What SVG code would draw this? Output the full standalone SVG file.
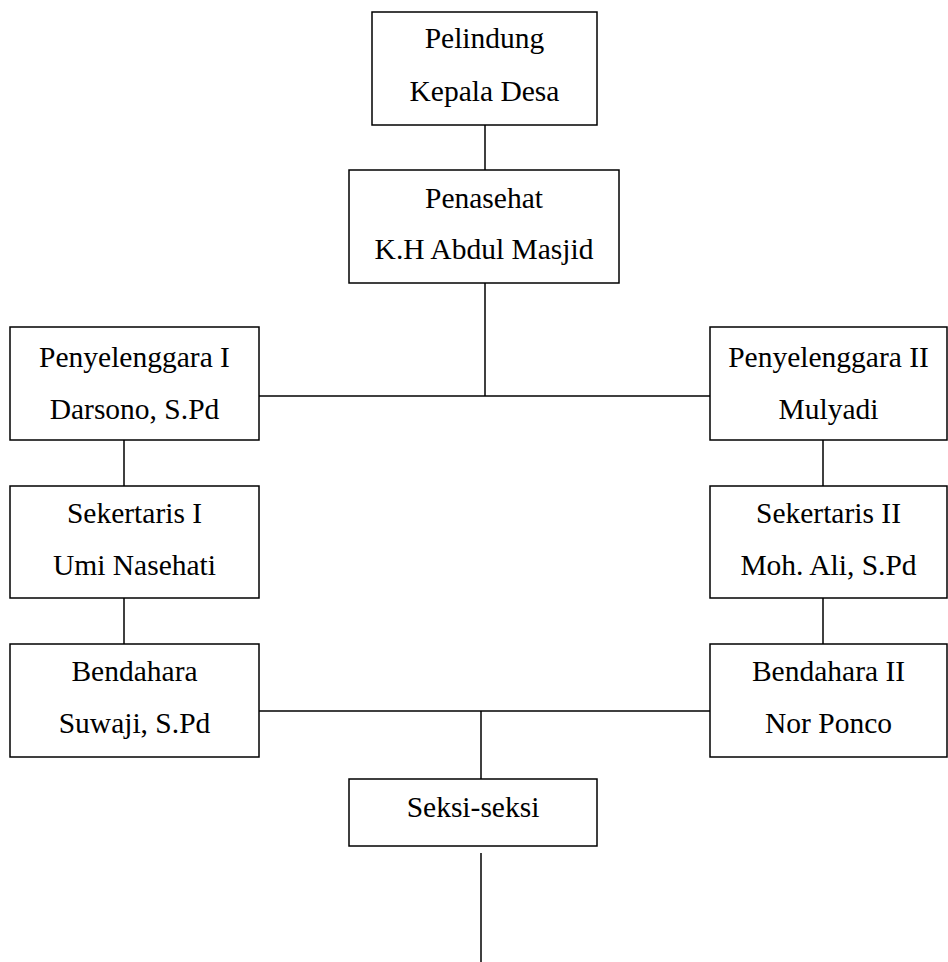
<svg xmlns="http://www.w3.org/2000/svg" width="948" height="962" viewBox="0 0 948 962">
<style>
.box{fill:#fff;stroke:#000;stroke-width:1.5}
line{stroke:#000;stroke-width:1.5}
text{font-family:"Liberation Serif","Times New Roman",serif;font-size:29.5px;text-anchor:middle;fill:#000}
</style>
<rect width="948" height="962" fill="#fff"/>
<g id="connectors">
<line x1="485" y1="125" x2="485" y2="170"/>
<line x1="485" y1="283" x2="485" y2="396"/>
<line x1="259" y1="396" x2="710" y2="396"/>
<line x1="124" y1="440" x2="124" y2="486"/>
<line x1="124" y1="598" x2="124" y2="644"/>
<line x1="823" y1="440" x2="823" y2="486"/>
<line x1="823" y1="598" x2="823" y2="644"/>
<line x1="259" y1="711" x2="710" y2="711"/>
<line x1="481" y1="711" x2="481" y2="779"/>
<line x1="481" y1="853" x2="481" y2="962"/>
</g>
<g id="pelindung"><rect class="box" x="372" y="12" width="225" height="113"/><text x="484.5" y="48">Pelindung</text><text x="484.5" y="101">Kepala Desa</text></g>
<g id="penasehat"><rect class="box" x="349" y="170" width="270" height="113"/><text x="484" y="208">Penasehat</text><text x="484" y="259">K.H Abdul Masjid</text></g>
<g id="penyelenggara1"><rect class="box" x="10" y="327" width="249" height="113"/><text x="134.5" y="367">Penyelenggara I</text><text x="134.5" y="419">Darsono, S.Pd</text></g>
<g id="penyelenggara2"><rect class="box" x="710" y="327" width="237" height="113"/><text x="828.5" y="367">Penyelenggara II</text><text x="828.5" y="419">Mulyadi</text></g>
<g id="sekertaris1"><rect class="box" x="10" y="486" width="249" height="112"/><text x="134.5" y="523">Sekertaris I</text><text x="134.5" y="575">Umi Nasehati</text></g>
<g id="sekertaris2"><rect class="box" x="710" y="486" width="237" height="112"/><text x="828.5" y="523">Sekertaris II</text><text x="828.5" y="575">Moh. Ali, S.Pd</text></g>
<g id="bendahara1"><rect class="box" x="10" y="644" width="249" height="113"/><text x="134.5" y="681">Bendahara</text><text x="134.5" y="733">Suwaji, S.Pd</text></g>
<g id="bendahara2"><rect class="box" x="710" y="644" width="237" height="113"/><text x="828.5" y="681">Bendahara II</text><text x="828.5" y="733">Nor Ponco</text></g>
<g id="seksi"><rect class="box" x="349" y="779" width="248" height="67"/><text x="473" y="817">Seksi-seksi</text></g>
</svg>
